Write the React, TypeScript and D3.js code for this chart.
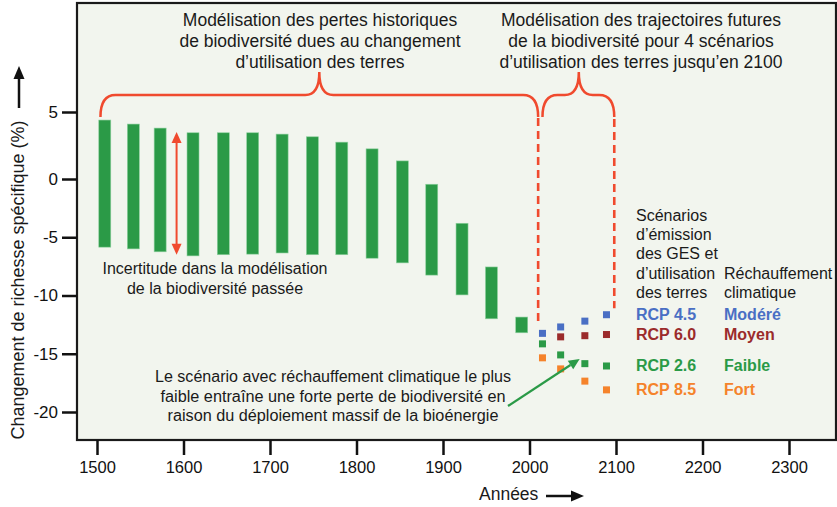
import * as React from 'react';
import * as d3 from 'd3';

// historical bars (year, upper and lower bound of species richness change, %)
const barYears = [1509, 1542, 1573, 1611, 1646, 1680, 1714, 1749, 1783, 1818, 1853, 1887, 1922, 1956, 1991];
const barHigh = [4.4, 4.1, 3.8, 3.45, 3.45, 3.45, 3.35, 3.15, 2.75, 2.25, 1.35, -0.45, -3.8, -7.55, -11.85];
const barLow = [-5.85, -6.0, -6.25, -6.6, -6.5, -6.45, -6.35, -6.5, -6.5, -6.8, -7.2, -8.25, -9.95, -12.0, -13.2];

// future scenarios
const scenarioYears = [2015, 2036, 2064, 2089];
const rcp45 = [-13.25, -12.7, -12.2, -11.65];
const rcp60 = [null, -13.55, -13.45, -13.35];
const rcp26 = [-14.15, -15.1, -15.85, -16.05];
const rcp85 = [-15.35, -16.3, -17.35, -18.1];

const scenarioNames = ['RCP 4.5', 'RCP 6.0', 'RCP 2.6', 'RCP 8.5'];
const warmingNames = ['Modéré', 'Moyen', 'Faible', 'Fort'];
const scenarioColors = ['#4a6fc4', '#9b2b2b', '#2b9a47', '#f5832b'];

const xTicks = [1500, 1600, 1700, 1800, 1900, 2000, 2100, 2200, 2300];
const yTicks = [5, 0, -5, -10, -15, -20];

const titleLeft = [
  'Modélisation des pertes historiques',
  'de biodiversité dues au changement',
  'd’utilisation des terres',
];
const titleRight = [
  'Modélisation des trajectoires futures',
  'de la biodiversité pour 4 scénarios',
  'd’utilisation des terres jusqu’en 2100',
];
const uncertaintyText = ['Incertitude dans la modélisation', 'de la biodiversité passée'];
const noteText = [
  'Le scénario avec réchauffement climatique le plus',
  'faible entraîne une forte perte de biodiversité en',
  'raison du déploiement massif de la bioénergie',
];
const noteWidths = [356, 345, 331];
const legendHeader = ['Scénarios', 'd’émission', 'des GES et', 'd’utilisation', 'des terres'];
const warmingHeader = ['Réchauffement', 'climatique'];

const FONT = '"Liberation Sans", Arial, Helvetica, sans-serif';
const RED = '#f04a2e';
const GREEN = '#2b9a47';

const brace = (x1: number, x2: number, xm: number, yEnd: number, yBar: number, yTip: number) => {
  const r = 15;
  const t = 14;
  return [
    `M${x1},${yEnd}`,
    `Q${x1},${yBar} ${x1 + r},${yBar}`,
    `L${xm - t},${yBar}`,
    `Q${xm},${yBar} ${xm},${yTip}`,
    `Q${xm},${yBar} ${xm + t},${yBar}`,
    `L${x2 - r},${yBar}`,
    `Q${x2},${yBar} ${x2},${yEnd}`,
  ].join(' ');
};

export default function App() {
  const xAxisRef = React.useRef<SVGGElement | null>(null);
  const yAxisRef = React.useRef<SVGGElement | null>(null);

  const left = 77;
  const top = 3;
  const right = 836;
  const bottom = 440;

  const x = d3.scaleLinear().domain([1500, 2300]).range([97, 789]);
  const y = d3.scaleLinear().domain([-20, 0, 5]).range([412, 179, 112]);

  React.useEffect(() => {
    if (xAxisRef.current) {
      const g = d3.select(xAxisRef.current);
      g.selectAll('*').remove();
      g.call(
        d3.axisBottom(x).tickValues(xTicks).tickSize(15).tickPadding(6).tickFormat((d) => String(d))
      );
      g.select('.domain').remove();
      g.selectAll('line').attr('stroke', '#111').attr('stroke-width', 2.5);
      g.selectAll('text').attr('font-family', FONT).attr('font-size', 16.5).attr('fill', '#111');
    }
    if (yAxisRef.current) {
      const g = d3.select(yAxisRef.current);
      g.selectAll('*').remove();
      g.call(
        d3.axisLeft(y).tickValues(yTicks).tickSize(15).tickPadding(4).tickFormat((d) => String(d))
      );
      g.select('.domain').remove();
      g.selectAll('line').attr('stroke', '#111').attr('stroke-width', 2.5);
      g.selectAll('text').attr('font-family', FONT).attr('font-size', 17).attr('fill', '#111');
    }
  }, []);

  const series = [rcp45, rcp60, rcp26, rcp85];
  const sq = 7;

  const bigBrace = brace(x(1504), x(2010), x(1757), 117, 95, 72);
  const smallBrace = brace(x(2015), x(2098), x(2057), 117, 95, 72);

  const arrowX = x(1592);
  const arrowTop = y(3.5);
  const arrowBottom = y(-6.5);

  const noteArrowStart: [number, number] = [508, 406];
  const noteArrowEnd: [number, number] = [x(2058), y(-15.45)];
  const ang = Math.atan2(noteArrowEnd[1] - noteArrowStart[1], noteArrowEnd[0] - noteArrowStart[0]);
  const headLen = 11;
  const headW = 5;
  const hx = noteArrowEnd[0] - headLen * Math.cos(ang);
  const hy = noteArrowEnd[1] - headLen * Math.sin(ang);
  const noteHead = [
    [noteArrowEnd[0], noteArrowEnd[1]],
    [hx + headW * Math.sin(ang), hy - headW * Math.cos(ang)],
    [hx - headW * Math.sin(ang), hy + headW * Math.cos(ang)],
  ]
    .map((p) => p.join(','))
    .join(' ');

  return (
    <svg
      width={837}
      height={507}
      style={{ position: 'absolute', left: 0, top: 0, background: '#ffffff' }}
      fontFamily={FONT}
    >
      <rect
        x={left}
        y={top}
        width={right - left}
        height={bottom - top}
        fill="#f2f5ee"
        stroke="#1a1a1a"
        strokeWidth={2.2}
      />

      {/* historical bars */}
      <g fill={GREEN} stroke="#8fd19f" strokeWidth={0.6}>
        {barYears.map((yr, i) => (
          <rect
            key={yr}
            x={x(yr) - 6}
            y={y(barHigh[i])}
            width={12}
            height={y(barLow[i]) - y(barHigh[i])}
          />
        ))}
      </g>

      {/* braces and dashed lines */}
      <path d={bigBrace} fill="none" stroke={RED} strokeWidth={2.5} />
      <path d={smallBrace} fill="none" stroke={RED} strokeWidth={2.5} />
      <line x1={x(2010)} x2={x(2010)} y1={118} y2={y(-12.5)} stroke={RED} strokeWidth={2.6} strokeDasharray="8 5" />
      <line x1={x(2098)} x2={x(2098)} y1={119} y2={y(-11.1)} stroke={RED} strokeWidth={2.6} strokeDasharray="8 5" />

      {/* uncertainty arrow */}
      <line x1={arrowX} x2={arrowX} y1={arrowTop + 9} y2={arrowBottom - 9} stroke={RED} strokeWidth={2} />
      <polygon points={`${arrowX},${arrowTop} ${arrowX - 5},${arrowTop + 11} ${arrowX + 5},${arrowTop + 11}`} fill={RED} />
      <polygon
        points={`${arrowX},${arrowBottom} ${arrowX - 5},${arrowBottom - 11} ${arrowX + 5},${arrowBottom - 11}`}
        fill={RED}
      />

      {/* scenario squares */}
      {series.map((vals, s) =>
        vals.map((v, i) =>
          v === null ? null : (
            <rect
              key={`${s}-${i}`}
              x={x(scenarioYears[i]) - sq / 2}
              y={y(v) - sq / 2}
              width={sq}
              height={sq}
              fill={scenarioColors[s]}
            />
          )
        )
      )}

      {/* legend */}
      <g fontSize={16} fill="#1a1a1a">
        {legendHeader.map((t, i) => (
          <text key={t} x={636} y={221 + i * 19.2}>
            {t}
          </text>
        ))}
        {warmingHeader.map((t, i) => (
          <text key={t} x={724} y={278.6 + i * 19.2}>
            {t}
          </text>
        ))}
      </g>
      <g fontSize={16} fontWeight="bold">
        {series.map((vals, s) => (
          <g key={s} fill={scenarioColors[s]}>
            <text x={636} y={y(vals[vals.length - 1] as number) + 5.5}>
              {scenarioNames[s]}
            </text>
            <text x={724} y={y(vals[vals.length - 1] as number) + 5.5}>
              {warmingNames[s]}
            </text>
          </g>
        ))}
      </g>

      {/* titles */}
      <g fontSize={17.5} fill="#1a1a1a" textAnchor="middle">
        {titleLeft.map((t, i) => (
          <text key={t} x={320} y={26 + i * 21}>
            {t}
          </text>
        ))}
        {titleRight.map((t, i) => (
          <text key={t} x={641} y={26 + i * 21}>
            {t}
          </text>
        ))}
      </g>

      <g fontSize={16} fill="#1a1a1a" textAnchor="middle">
        {uncertaintyText.map((t, i) => (
          <text key={t} x={215} y={274 + i * 20}>
            {t}
          </text>
        ))}
      </g>

      <g fontSize={16} fill="#1a1a1a" textAnchor="middle">
        {noteText.map((t, i) => (
          <text
            key={t}
            x={333}
            y={382 + i * 19.5}
            textLength={noteWidths[i]}
            lengthAdjust="spacingAndGlyphs"
          >
            {t}
          </text>
        ))}
      </g>

      {/* note arrow */}
      <line
        x1={noteArrowStart[0]}
        y1={noteArrowStart[1]}
        x2={hx}
        y2={hy}
        stroke={GREEN}
        strokeWidth={2.2}
      />
      <polygon points={noteHead} fill={GREEN} />

      {/* axes */}
      <g ref={xAxisRef} transform={`translate(0,${bottom})`} />
      <g ref={yAxisRef} transform={`translate(${left},0)`} />

      {/* axis titles */}
      <text x={479} y={500} fontSize={17.5} fill="#1a1a1a">
        Années
      </text>
      <line x1={546} x2={572} y1={496} y2={496} stroke="#111" strokeWidth={2.5} />
      <polygon points="584,496 571,490.5 571,501.5" fill="#111" />

      <text
        transform="translate(24,280) rotate(-90)"
        textAnchor="middle"
        fontSize={18}
        fill="#1a1a1a"
      >
        Changement de richesse spécifique (%)
      </text>
      <line x1={19} x2={19} y1={108} y2={78} stroke="#111" strokeWidth={2.5} />
      <polygon points="19,66 13.5,79 24.5,79" fill="#111" />
    </svg>
  );
}
